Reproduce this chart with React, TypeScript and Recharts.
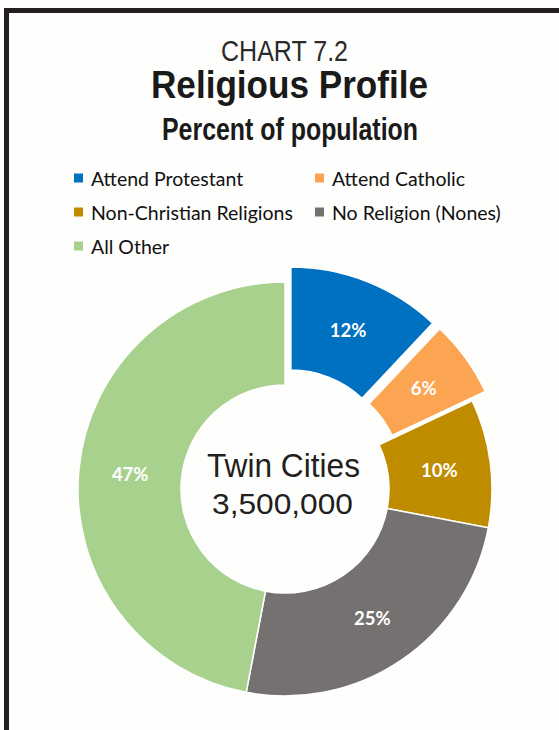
import { PieChart, Pie, Cell, Legend } from 'recharts'

const categories = ['Attend Protestant', 'Attend Catholic', 'Non-Christian Religions', 'No Religion (Nones)', 'All Other']
const shares = [12, 6, 10, 25, 47]
const colors = ['#0070c0', '#fba552', '#bf8c00', '#767171', '#a9d18e']
const explodedIdx = [0, 1]

const chartTitle = 'CHART 7.2'
const title = 'Religious Profile'
const subtitle = 'Percent of population'
const centerLines = ['Twin Cities', '3,500,000']

const data = categories.map((name, i) => ({ name, value: shares[i] }))

const CX = 285
const CY = 489
const INNER = 104
const OUTER = 207
const EXPLODE = 16
const RADIAN = Math.PI / 180

// offset of an exploded slice along its mid angle
function sliceOffset(idx: number) {
  const total = shares.reduce((a, b) => a + b, 0)
  const before = shares.slice(0, idx).reduce((a, b) => a + b, 0)
  const mid = 90 - ((before + shares[idx] / 2) / total) * 360
  return { dx: EXPLODE * Math.cos(mid * RADIAN), dy: -EXPLODE * Math.sin(mid * RADIAN) }
}

function makeLabel(show: number[]) {
  return (p: any) => {
    if (!show.includes(p.index)) return null
    const r = (p.innerRadius + p.outerRadius) / 2
    const x = p.cx + r * Math.cos(-p.midAngle * RADIAN)
    const y = p.cy + r * Math.sin(-p.midAngle * RADIAN)
    return (
      <text x={x} y={y} fill="#fff" textAnchor="middle" dominantBaseline="central"
        fontFamily="Lato" fontWeight={700} fontSize={18.5}>
        {`${shares[p.index]}%`}
      </text>
    )
  }
}

function LegendBox() {
  const cols = [74, 315]
  const rows = [178, 212, 246]
  return (
    <svg width={559} height={270} style={{ display: 'block' }}>
      {categories.map((name, i) => {
        const x = cols[i % 2]
        const y = rows[Math.floor(i / 2)]
        return (
          <g key={name}>
            <rect x={x} y={y - 4.5} width={9} height={9} fill={colors[i]} />
            <text x={x + 17} y={y} dominantBaseline="central" fontFamily="Lato" fontSize={19.5} fill="#111">{name}</text>
          </g>
        )
      })}
    </svg>
  )
}

const mainVisible = categories.map((_, i) => i).filter(i => !explodedIdx.includes(i))

export default function App() {
  return (
    <div style={{ position: 'absolute', top: 0, left: 0, width: 559, height: 730, overflow: 'hidden', background: '#fefefc' }}>
      <div style={{ position: 'absolute', left: 4, top: 8, width: 700, height: 900, borderLeft: '5px solid #231f20', borderTop: '5px solid #231f20' }} />
      <div style={{ position: 'absolute', left: 0, top: 0 }}>
        <PieChart width={559} height={730} margin={{ top: 0, right: 0, bottom: 0, left: 0 }}>
          <Legend content={() => <LegendBox />} wrapperStyle={{ left: 0, top: 0, width: 559, height: 270 }} />
          <Pie data={data} dataKey="value" nameKey="name" cx={CX} cy={CY} innerRadius={INNER} outerRadius={OUTER}
            startAngle={90} endAngle={-270} stroke="#fff" strokeWidth={1.5} labelLine={false}
            label={makeLabel(mainVisible)} isAnimationActive={false}>
            {data.map((d, i) => (
              explodedIdx.includes(i)
                ? <Cell key={d.name} fill="none" stroke="none" />
                : <Cell key={d.name} fill={colors[i]} />
            ))}
          </Pie>
          {explodedIdx.map(idx => {
            const { dx, dy } = sliceOffset(idx)
            return (
              <Pie key={`ex-${idx}`} data={data} dataKey="value" nameKey="name" cx={CX + dx} cy={CY + dy}
                innerRadius={INNER} outerRadius={OUTER} startAngle={90} endAngle={-270} legendType="none"
                stroke="#fff" strokeWidth={1.5} labelLine={false} label={makeLabel([idx])} isAnimationActive={false}>
                {data.map((d, i) => (
                  i === idx ? <Cell key={d.name} fill={colors[i]} /> : <Cell key={d.name} fill="none" stroke="none" />
                ))}
              </Pie>
            )
          })}
        </PieChart>
      </div>
      <svg width={559} height={730} style={{ position: 'absolute', left: 0, top: 0, pointerEvents: 'none' }}>
        <text x={284.5} y={61} textAnchor="middle" fontFamily="Liberation Sans" fontSize={29} fill="#2a2a2a"
          textLength={127} lengthAdjust="spacingAndGlyphs">{chartTitle}</text>
        <text x={289.5} y={98} textAnchor="middle" fontFamily="Liberation Sans" fontWeight={700} fontSize={39} fill="#1a1a1a"
          textLength={277} lengthAdjust="spacingAndGlyphs">{title}</text>
        <text x={290} y={140} textAnchor="middle" fontFamily="Liberation Sans" fontWeight={700} fontSize={31} fill="#1a1a1a"
          textLength={256} lengthAdjust="spacingAndGlyphs">{subtitle}</text>
        <text x={283.5} y={477} textAnchor="middle" fontFamily="Liberation Sans" fontSize={33} fill="#231f20"
          textLength={153} lengthAdjust="spacingAndGlyphs">{centerLines[0]}</text>
        <text x={282.5} y={514} textAnchor="middle" fontFamily="Liberation Sans" fontSize={30} fill="#231f20"
          textLength={141} lengthAdjust="spacingAndGlyphs">{centerLines[1]}</text>
      </svg>
    </div>
  )
}
